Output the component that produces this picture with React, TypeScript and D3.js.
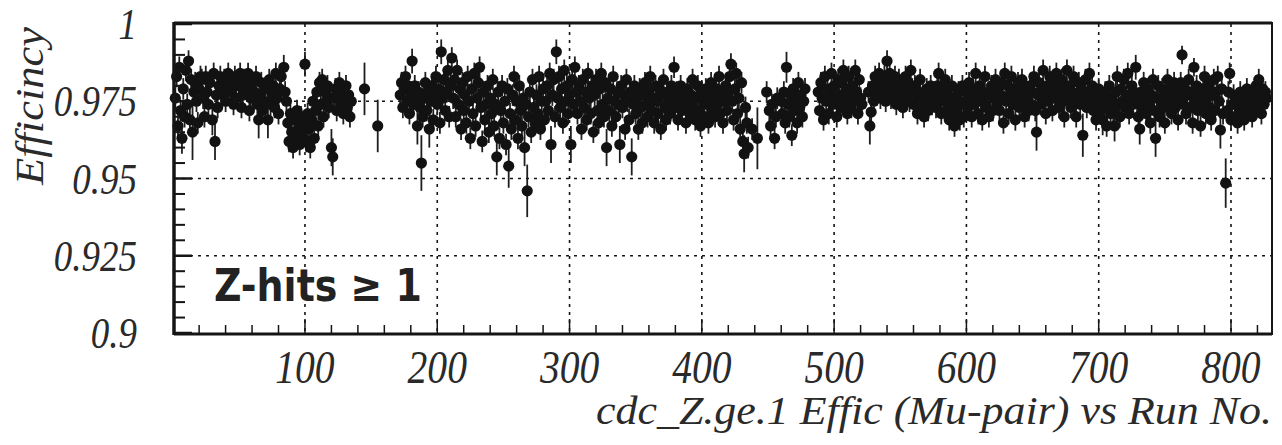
import React from 'react';
import * as d3 from 'd3';

// [run number, efficiency, (optional) error]
type P = [number, number, number?];

const typicalErr = 0.0035;

const blockA: P[] = [
  [2,0.976],[3,0.983],[4,0.967],[5,0.986],[6,0.972],[7,0.963,0.005],[8,0.979],[9,0.97],[10,0.985],[11,0.974],
  [12,0.988],[13,0.969],[14,0.982],[15,0.965,0.009],[16,0.978],[17,0.981],[18,0.975],[19,0.968],[20,0.979],[21,0.983],
  [22,0.982],[23,0.976],[24,0.97],[25,0.983],[26,0.978],[27,0.974],[28,0.981],[30,0.969,0.005],[31,0.984],[32,0.962,0.006],
  [33,0.977],[34,0.973],[35,0.98],[36,0.983],[38,0.977],[39,0.982],[40,0.975],[41,0.979],[42,0.984],[44,0.978],
  [45,0.981],[46,0.974],[47,0.983],[48,0.976],[50,0.98],[51,0.984],[52,0.973],[53,0.977],[54,0.982],[56,0.979],
  [57,0.984],[58,0.972],[59,0.976],[60,0.981],[62,0.978],[63,0.983],[64,0.974],[65,0.969,0.006],[66,0.977],[67,0.981],
  [68,0.972],[69,0.975],[70,0.979],[72,0.969,0.006],[73,0.982],[74,0.974],[75,0.977],[76,0.98],[77,0.973],[78,0.984],
  [79,0.976],[80,0.971],[81,0.979],[82,0.983],[84,0.986,0.004],[85,0.978],[86,0.975],[87,0.968],[88,0.962],[89,0.971],
  [90,0.965],[91,0.96],[92,0.969],[93,0.963],[94,0.972],[95,0.966],[96,0.961],[97,0.97],[98,0.964],[99,0.968],
  [100,0.987,0.004],[101,0.962],[102,0.971],[103,0.966],[104,0.96],[105,0.969],[106,0.975],[107,0.963],[108,0.972],[109,0.978],
  [110,0.967],[111,0.981],[112,0.974],[113,0.982],[114,0.97],[115,0.978],[116,0.975],[117,0.98],[118,0.973],[119,0.976],
  [120,0.96,0.006],[121,0.957,0.006],[122,0.976],[123,0.979],[124,0.972],[125,0.977],[126,0.981],[127,0.974],[128,0.978],[129,0.971],
  [130,0.976],[131,0.98],[132,0.973],[133,0.977],[134,0.97],[135,0.975],
];

const blockB: P[] = [
  [145,0.979,0.0085],[155,0.967,0.0085],[172,0.977],[173,0.981],[174,0.973],[175,0.979],[176,0.983],[177,0.975],[178,0.98],[179,0.971],
  [180,0.977],[181,0.988,0.004],[182,0.974],[183,0.98],[184,0.976],[185,0.967,0.006],[186,0.978],[187,0.973],[188,0.955,0.009],[189,0.97],
  [190,0.976],[191,0.981],[192,0.972],[193,0.978],[194,0.966,0.006],[195,0.975],[196,0.98],[197,0.969],[198,0.977],[199,0.983],
  [200,0.974],[201,0.979],[202,0.968],[203,0.991,0.004],[204,0.976],[205,0.982],[206,0.972],[207,0.978],[208,0.985],[209,0.97],[210,0.98],
];

const blockC: P[] = [
  [211,0.989],[212,0.976],[213,0.982],[214,0.97],[215,0.985],[216,0.974],[217,0.979],[218,0.966],[219,0.981],[220,0.972],
  [221,0.977],[222,0.968],[223,0.983],[224,0.975],[225,0.963],[226,0.979],[227,0.971],[228,0.984],[229,0.967],[230,0.976],
  [231,0.981],[232,0.986],[233,0.973],[234,0.962],[235,0.978],[236,0.969],[237,0.974],[238,0.98],[239,0.965],[240,0.976],
  [241,0.971],[242,0.982],[243,0.967],[244,0.974],[245,0.957,0.006],[246,0.978],[247,0.963],[248,0.972],[249,0.98],[250,0.968],
  [251,0.975],[252,0.961],[253,0.979],[254,0.954,0.007],[255,0.971],[256,0.966],[257,0.977],[258,0.983],[259,0.969],[260,0.975],
  [261,0.963],[262,0.98],[263,0.972],[264,0.967],[265,0.976],[266,0.96,0.006],[267,0.974],[268,0.946,0.0085],[269,0.97],[270,0.978],
  [271,0.965],[272,0.982],[273,0.973],[274,0.968],[275,0.977],[276,0.971],[277,0.983],[278,0.966],[279,0.975],[280,0.979],
  [281,0.969],[282,0.975],[283,0.98],[284,0.972],[285,0.984],[286,0.961,0.006],[287,0.977],[288,0.982],[289,0.97],[290,0.991,0.004],
  [291,0.976],[292,0.983],[293,0.973],[294,0.979],[295,0.968],[296,0.985],[297,0.975],[298,0.98],[299,0.971],[300,0.977],
  [301,0.961,0.006],[302,0.982],[303,0.974],[304,0.986],[305,0.978],[306,0.971],[307,0.98],[308,0.975],[309,0.966],[310,0.982],
  [311,0.973],[312,0.978],[313,0.969],[314,0.984],[315,0.976],[316,0.971],[317,0.98],[318,0.965],[319,0.977],[320,0.982],
  [321,0.972],[322,0.968],[323,0.979],[324,0.984],[325,0.974],[326,0.97],[327,0.981],[328,0.96,0.006],[329,0.976],[330,0.972],
  [331,0.979],[332,0.967],[333,0.983],[334,0.975],[335,0.97],[336,0.978],[337,0.974],[338,0.961,0.006],[339,0.98],[340,0.973],
  [341,0.977],[342,0.966],[343,0.982],[344,0.975],[345,0.969],[346,0.978],[347,0.957,0.006],[348,0.974],[349,0.98],[350,0.971],
  [351,0.976],[352,0.966],[353,0.979],[354,0.973],[355,0.968],[356,0.977],
];

const blockD: P[] = [
  [357,0.981],[358,0.974],[359,0.97],[360,0.978],[361,0.983],[362,0.972],[363,0.976],[364,0.968],[365,0.98],[366,0.975],
  [367,0.971],[368,0.979],[369,0.966],[370,0.977],[371,0.982],[372,0.973],[373,0.969],[374,0.978],[375,0.975],[376,0.971],
  [377,0.98],[378,0.976],[379,0.986],[380,0.973],[381,0.978],[382,0.969],[383,0.975],[384,0.98],[385,0.972],[386,0.977],
  [387,0.974],[388,0.968],[389,0.979],[390,0.975],[391,0.971],[392,0.977],[393,0.982],[394,0.973],[395,0.969],[396,0.976],
  [397,0.98],[398,0.972],[399,0.967],[400,0.978],[401,0.975],[402,0.97],[403,0.979],[404,0.974],[405,0.968],[406,0.977],
  [407,0.981],[408,0.972],[409,0.976],[410,0.97],[411,0.979],[412,0.974],[413,0.983],[414,0.971],[415,0.977],[416,0.968],
  [417,0.975],[418,0.98],[419,0.972],[420,0.977],[421,0.983],[422,0.987],[423,0.975],[424,0.969],[425,0.979],[426,0.984],
  [427,0.971],[428,0.976],[429,0.966],[430,0.981],[431,0.962],[432,0.958,0.006],[433,0.973],[434,0.968],[435,0.96],[438,0.966],
  [442,0.963,0.01],[449,0.978],[451,0.972],[452,0.967],[453,0.974],[455,0.963],[456,0.97],[457,0.976],[460,0.975],[461,0.971],
  [462,0.978],[463,0.968],[464,0.986,0.005],[465,0.974],[466,0.97],[467,0.977],[468,0.964],[469,0.979],[470,0.972],[471,0.975],
  [472,0.968],[473,0.981],[474,0.973],[475,0.977],[476,0.97],[477,0.975],[478,0.979],
];

const blockE: P[] = [
  [488,0.978],[489,0.972],[490,0.981],[491,0.976],[492,0.969],[493,0.983],[494,0.975],[495,0.979],[496,0.971],[497,0.977],
  [498,0.984],[499,0.974],[500,0.98],[501,0.976],[502,0.97],[503,0.982],[504,0.977],[505,0.973],[506,0.981],[507,0.985],
  [508,0.975],[509,0.979],[510,0.971],[511,0.983],[512,0.977],[513,0.973],[514,0.98],[515,0.975],[516,0.985],[517,0.978],
  [518,0.971],[519,0.982],[520,0.976],[521,0.974],[526,0.978],[527,0.967,0.006],[528,0.9715],[529,0.98],[530,0.975],[531,0.983],
  [532,0.977],[533,0.98],[534,0.984],[535,0.976],[536,0.981],[537,0.978],[538,0.983],[539,0.975],[540,0.988],[541,0.979],
  [542,0.984],[543,0.976],[544,0.981],[545,0.977],[546,0.983],[547,0.974],[548,0.979],[549,0.982],[550,0.976],[551,0.98],
  [552,0.973],[553,0.978],[554,0.983],[555,0.977],[556,0.981],[557,0.975],[558,0.985],[559,0.979],[560,0.974],[561,0.98],
  [562,0.976],[563,0.971],[564,0.978],[565,0.982],[566,0.973],[567,0.977],[568,0.97],[569,0.975],[570,0.979],[571,0.972],
  [572,0.976],[573,0.98],[574,0.974],[576,0.977],[577,0.973],[578,0.98],[579,0.984],[580,0.976],[581,0.971],[582,0.979],
  [583,0.975],[584,0.982],[585,0.972],[586,0.977],[587,0.969],[588,0.974],[589,0.98],[590,0.971],[591,0.967],[592,0.976],
  [593,0.972],[594,0.978],[595,0.969],[596,0.974],[597,0.98],[598,0.97],[599,0.975],[600,0.978],[601,0.973],[602,0.981],
  [603,0.976],[604,0.97],[605,0.979],[606,0.974],[607,0.984],[608,0.977],[609,0.971],[610,0.98],[611,0.975],[612,0.969],
  [613,0.978],[614,0.983],[615,0.973],[616,0.977],[617,0.97],[618,0.976],[619,0.98],[620,0.972],[621,0.977],[622,0.982],[623,0.974],
];

const blockF: P[] = [
  [624,0.979],[625,0.972],[626,0.977],[627,0.981],[628,0.968],[629,0.984],[630,0.975],[631,0.98],[632,0.971],[633,0.977],
  [634,0.983],[635,0.974],[636,0.979],[637,0.969],[638,0.976],[639,0.981],[640,0.973],[641,0.978],[642,0.982],[643,0.975],
  [644,0.97],[645,0.979],[646,0.976],[647,0.972],[648,0.98],[649,0.974],[650,0.978],[651,0.983],[652,0.972],[653,0.965,0.006],
  [654,0.977],[655,0.981],[656,0.974],[657,0.979],[658,0.985],[659,0.976],[660,0.971],[661,0.98],[662,0.975],[663,0.983],
  [664,0.978],[665,0.972],[666,0.981],[667,0.976],[668,0.984],[669,0.979],[670,0.973],[671,0.977],[672,0.982],[673,0.975],
  [674,0.97],[675,0.979],[676,0.985],[677,0.976],[678,0.98],[679,0.973],[680,0.978],[681,0.983],[682,0.975],[683,0.97],
  [684,0.977],[685,0.981],[686,0.974],[687,0.979],[688,0.964,0.007],[689,0.976],[690,0.982],[691,0.973],[692,0.978],[693,0.984],
  [694,0.975],[695,0.98],[696,0.972],[697,0.977],[698,0.969],[699,0.974],[700,0.979],[701,0.971],[702,0.976],[703,0.969,0.005],
  [704,0.973],[705,0.978],[706,0.967],[707,0.974],[708,0.98],[709,0.971],[710,0.976],[711,0.972],[712,0.967,0.005],[713,0.978],
  [714,0.983],[715,0.974],[716,0.97],[717,0.979],[718,0.975],[719,0.982],[720,0.973],[721,0.977],[722,0.984],[723,0.971],
  [724,0.976],[725,0.98],[726,0.974],[727,0.978],[728,0.986,0.004],[729,0.975],[730,0.97],[731,0.966,0.005],[732,0.978],[733,0.973],
  [734,0.981],[735,0.976],[736,0.971],[737,0.979],[738,0.974],[739,0.968],[740,0.977],[741,0.982],[742,0.972],[743,0.963,0.006],
  [744,0.976],[745,0.98],[746,0.97],[747,0.975],[748,0.979],[749,0.973],[750,0.968],[751,0.977],[752,0.982],[753,0.974],
  [754,0.979],[755,0.971],[756,0.976],[757,0.981],[758,0.973],[759,0.978],[760,0.969],[761,0.976],[762,0.981],[763,0.99,0.003],
  [764,0.974],[765,0.979],[766,0.971],[767,0.977],[768,0.982],[769,0.973],[770,0.978],[771,0.968],[772,0.986,0.003],[773,0.975],
  [774,0.98],[775,0.972],[776,0.977],[777,0.967],[778,0.974],[779,0.979],[780,0.983],[781,0.971],[782,0.976],[783,0.98],
  [784,0.973],[785,0.969],[786,0.977],[787,0.982],[788,0.972],[789,0.978],[790,0.983],[791,0.975],[792,0.9657,0.006],[793,0.979],
  [794,0.971],[796,0.9485,0.008],[797,0.972],[798,0.978],[799,0.984],[800,0.969],[801,0.974],[802,0.977],[803,0.97],[804,0.975],
  [805,0.968],[806,0.973],[807,0.978],[808,0.971],[809,0.976],[810,0.969],[811,0.974],[812,0.979],[813,0.972],[814,0.977],
  [815,0.975],[816,0.97],[817,0.978],[818,0.973],[819,0.98],[820,0.975],[821,0.982],[822,0.977],[823,0.971],[824,0.979],
  [825,0.974],[826,0.978],[827,0.976],
];

const yTickValues = [0.9, 0.925, 0.95, 0.975, 1];
const yTickLabels = ['0.9', '0.925', '0.95', '0.975', '1'];
const xTickValues = [100, 200, 300, 400, 500, 600, 700, 800];
const xTickLabels = ['100', '200', '300', '400', '500', '600', '700', '800'];
const yGridValues = [0.925, 0.95, 0.975];
const xTitle = 'cdc_Z.ge.1 Effic (Mu-pair) vs Run No.';
const yTitle = 'Efficincy';
const insetLabel = 'Z-hits \u2265 1';

const W = 1282;
const H = 445;
const left = 174, right = 1272, top = 24, bottom = 333;
const serif = 'Liberation Serif';
const ink = '#151515';
const textInk = '#2a2a2a';

export default function App() {
  const x = d3.scaleLinear().domain([1, 831]).range([left, right]);
  const y = d3.scaleLinear().domain([0.9, 1.0]).range([bottom, top]);
  const points: P[] = [...blockA, ...blockB, ...blockC, ...blockD, ...blockE, ...blockF];
  const yMinor = d3.range(0, 21).map((i) => 0.9 + i * 0.005);
  const xMinor = d3.range(1, 42).map((i) => i * 20).filter((v) => v <= 830);

  return (
    <svg width={W} height={H} style={{ position: 'absolute', left: 0, top: 0, background: '#fff' }}>
      <rect x={0} y={0} width={W} height={H} fill="#fff" />
      {/* grid */}
      {yGridValues.map((v) => (
        <line key={'gy' + v} x1={left} x2={right} y1={y(v)} y2={y(v)} stroke={ink} strokeWidth={1.6} strokeDasharray="3,5" />
      ))}
      {xTickValues.map((v) => (
        <line key={'gx' + v} x1={x(v)} x2={x(v)} y1={top} y2={bottom} stroke={ink} strokeWidth={1.6} strokeDasharray="3,5" />
      ))}
      {/* error bars */}
      {points.map((p, i) => {
        const e = p[2] ?? typicalErr;
        return (
          <line key={'e' + i} x1={x(p[0])} x2={x(p[0])} y1={y(Math.min(1, p[1] + e))} y2={y(p[1] - e)} stroke="#1e1e1e" strokeWidth={1.8} />
        );
      })}
      {/* markers */}
      {points.map((p, i) => (
        <circle key={'c' + i} cx={x(p[0])} cy={y(p[1])} r={5.6} fill="#121212" />
      ))}
      {/* frame */}
      <line x1={left} x2={right} y1={top - 1} y2={top - 1} stroke={ink} strokeWidth={3} />
      <line x1={left} x2={right} y1={bottom + 1} y2={bottom + 1} stroke={ink} strokeWidth={3} />
      <line x1={left} x2={left} y1={top - 2} y2={bottom + 2} stroke={ink} strokeWidth={3.5} />
      <line x1={right} x2={right} y1={top - 2} y2={bottom + 2} stroke={ink} strokeWidth={2} />
      {/* y ticks */}
      {yMinor.map((v, i) => (
        <line key={'yt' + i} x1={left} x2={left + (i % 5 === 0 ? 18 : 11)} y1={y(v)} y2={y(v)} stroke={ink} strokeWidth={i % 5 === 0 ? 2.5 : 2} />
      ))}
      {/* x ticks */}
      {xMinor.map((v) => (
        <line key={'xt' + v} x1={x(v)} x2={x(v)} y1={bottom} y2={bottom - (v % 100 === 0 ? 14 : 8)} stroke={ink} strokeWidth={1.5} />
      ))}
      {/* y tick labels */}
      {yTickValues.map((v, i) => (
        <text key={'yl' + v} transform={`translate(137,${y(v) + 15}) scale(0.84,1)`} textAnchor="end"
          fontFamily={serif} fontStyle="italic" fontSize={44} fill={textInk}>{yTickLabels[i]}</text>
      ))}
      {/* x tick labels */}
      {xTickValues.map((v, i) => (
        <text key={'xl' + v} transform={`translate(${x(v)},383) scale(0.86,1)`} textAnchor="middle"
          fontFamily={serif} fontStyle="italic" fontSize={46} fill={textInk}>{xTickLabels[i]}</text>
      ))}
      {/* axis titles */}
      <text x={1272} y={424} textAnchor="end" fontFamily={serif} fontStyle="italic" fontSize={40} fill={textInk}
        textLength={676} lengthAdjust="spacingAndGlyphs">{xTitle}</text>
      <text transform="translate(43,106) rotate(-90)" textAnchor="middle" fontFamily={serif} fontStyle="italic"
        fontSize={41} fill={textInk} textLength={158} lengthAdjust="spacingAndGlyphs">{yTitle}</text>
      {/* inset annotation */}
      <text x={214} y={301} fontFamily="DejaVu Sans" fontWeight="bold" fontSize={44} fill="#222"
        textLength={208} lengthAdjust="spacingAndGlyphs">{insetLabel}</text>
    </svg>
  );
}
